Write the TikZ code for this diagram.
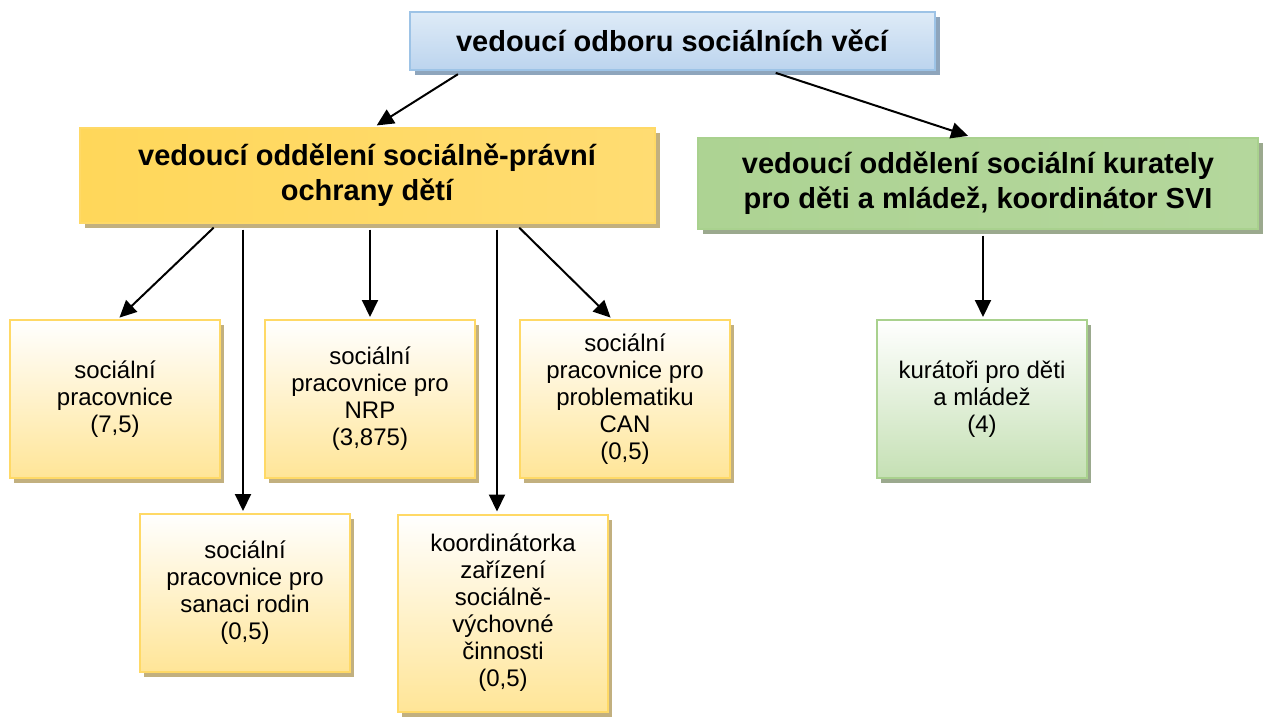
\documentclass[tikz,border=0pt]{standalone}
\usepackage{fontspec}
\setmainfont{Liberation Sans}
\usepackage{tikz}
\usetikzlibrary{arrows.meta,positioning,shadows}

\definecolor{blueA}{HTML}{DEEBF7}
\definecolor{blueB}{HTML}{BCD4EE}
\definecolor{blueE}{HTML}{9DC3E6}
\definecolor{blueS}{HTML}{8EA5BC}
\definecolor{goldA}{HTML}{FFD75A}
\definecolor{goldB}{HTML}{FFEBAE}
\definecolor{goldC}{HTML}{FFDC72}
\definecolor{goldE}{HTML}{FFD966}
\definecolor{goldS}{HTML}{C2B07F}
\definecolor{yelB}{HTML}{FFE597}
\definecolor{grnA}{HTML}{ADD393}
\definecolor{grnB}{HTML}{E2EFDA}
\definecolor{grnC}{HTML}{B4D79C}
\definecolor{grnE}{HTML}{A9D18E}
\definecolor{grnS}{HTML}{9BA98E}
\definecolor{grnL}{HTML}{C5E0B4}

\begin{document}
\begin{tikzpicture}[->,>={Triangle[length=17pt,width=16pt]},shorten >=2pt,shorten <=6pt,
                    x=1pt,y=-1pt,line width=2pt,node distance=255pt,
                    box/.style={rectangle,draw,line width=2pt,align=center,inner sep=0pt},
                    head node/.style={box,draw=blueE,top color=blueA,bottom color=blueB,
                      minimum width=525pt,minimum height=58pt,font=\bfseries\fontsize{29}{35}\selectfont,
                      drop shadow={shadow xshift=5pt,shadow yshift=-5pt,fill=blueS,opacity=1}},
                    lead node/.style={box,draw=goldE,left color=goldA,middle color=goldB,right color=goldC,
                      minimum width=575pt,minimum height=95pt,font=\bfseries\fontsize{29}{35}\selectfont,
                      drop shadow={shadow xshift=5pt,shadow yshift=-5pt,fill=goldS,opacity=1}},
                    kur node/.style={box,draw=grnE,left color=grnA,middle color=grnB,right color=grnC,
                      minimum width=560pt,minimum height=91pt,font=\bfseries\fontsize{29}{35}\selectfont,
                      drop shadow={shadow xshift=5pt,shadow yshift=-5pt,fill=grnS,opacity=1}},
                    staff node/.style={box,draw=goldE,top color=white,bottom color=yelB,
                      minimum width=210pt,minimum height=158pt,font=\fontsize{24}{27}\selectfont,
                      drop shadow={shadow xshift=4pt,shadow yshift=-5pt,fill=goldS,opacity=1}},
                    kstaff node/.style={staff node,draw=grnE,bottom color=grnL,
                      drop shadow={shadow xshift=4pt,shadow yshift=-5pt,fill=grnS,opacity=1}}]

  \useasboundingbox (0,0) rectangle (1269,716);

  \node[head node] (1) at (672,41) {vedoucí odboru sociálních věcí};
  \node[lead node] (2) at (367,175) {vedoucí oddělení sociálně-právní\\ochrany dětí};
  \node[kur node] (3) at (978,183) {vedoucí oddělení sociální kurately\\pro děti a mládež, koordinátor SVI};

  \node[staff node] (4) at (115,399) {sociální\\pracovnice\\(7,5)};
  \node[staff node] (5) [right of=4] {sociální\\pracovnice pro\\NRP\\(3,875)};
  \node[staff node] (6) [right of=5] {sociální\\pracovnice pro\\problematiku\\CAN\\(0,5)};
  \node[staff node] (7) at (245,593) {sociální\\pracovnice pro\\sanaci rodin\\(0,5)};
  \node[staff node,minimum height=197pt] (8) at (503,613) {koordinátorka\\zařízení\\sociálně-\\výchovné\\činnosti\\(0,5)};
  \node[kstaff node] (9) at (982,399) {kurátoři pro děti\\a mládež\\(4)};

  \path
   ([xshift=-209pt]1.south) edge ([xshift=8pt]2.north)
   ([xshift=98pt]1.south) edge ([xshift=-8pt]3.north)
   ([xshift=-149pt]2.south) edge ([xshift=3pt]4.north)
   ([xshift=-124pt]2.south) edge ([xshift=-2pt]7.north)
   ([xshift=3pt]2.south) edge (5.north)
   ([xshift=130pt]2.south) edge ([xshift=-6pt]8.north)
   ([xshift=148pt]2.south) edge ([xshift=-13pt]6.north)
   ([xshift=5pt]3.south) edge ([xshift=1pt]9.north);
\end{tikzpicture}
\end{document}
